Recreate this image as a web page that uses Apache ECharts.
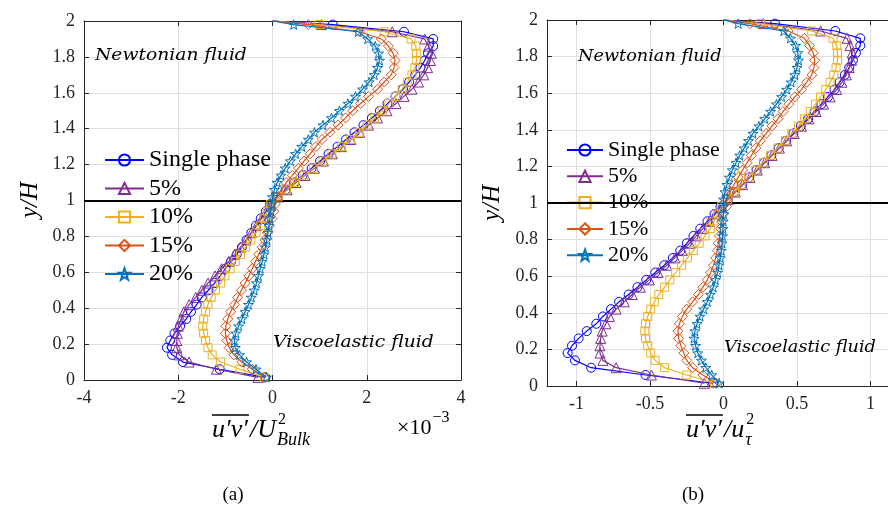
<!DOCTYPE html>
<html>
<head>
<meta charset="utf-8">
<script src="https://cdn.jsdelivr.net/npm/echarts@6/dist/echarts.min.js"></script>
<style>
  html, body { margin: 0; padding: 0; background: #fff; }
  #chart { width: 888px; height: 509px; }
</style>
</head>
<body>
<div id="chart"></div>
<script>
// Wall-normal positions y/H shared by every profile (last entry is the upper wall).
const yOverH = [0.015,0.06,0.10,0.14,0.18,0.22,0.26,0.30,0.34,0.38,0.42,0.46,0.50,0.54,0.58,0.62,0.66,0.70,0.74,0.78,0.82,0.86,0.90,0.94,0.98,
                1.02,1.06,1.10,1.14,1.18,1.22,1.26,1.30,1.34,1.38,1.42,1.46,1.50,1.54,1.58,1.62,1.66,1.70,1.74,1.78,1.82,1.86,1.90,1.94,1.98,2.00];

const seriesNames = ['Single phase', '5%', '10%', '15%', '20%'];

// (a) Reynolds shear stress scaled by the bulk velocity, units of 1e-3
const bulkSingle = [-0.15,-1.12,-1.90,-2.13,-2.24,-2.17,-2.08,-1.96,-1.83,-1.73,-1.61,-1.50,-1.36,-1.23,-1.11,-1.00,-0.88,-0.76,-0.65,-0.55,-0.45,-0.35,-0.25,-0.14,-0.05,
                    0.11,0.28,0.46,0.64,0.83,1.01,1.19,1.38,1.56,1.74,1.93,2.11,2.28,2.44,2.61,2.77,2.90,3.03,3.14,3.23,3.30,3.41,3.41,2.79,1.28,0];
const bulk5 = [-0.31,-1.19,-1.77,-1.98,-2.03,-2.03,-2.02,-2.00,-1.94,-1.88,-1.77,-1.63,-1.50,-1.37,-1.22,-1.08,-0.93,-0.80,-0.68,-0.56,-0.45,-0.34,-0.23,-0.13,-0.04,
               0.13,0.31,0.50,0.69,0.89,1.08,1.27,1.46,1.66,1.85,2.04,2.23,2.43,2.62,2.79,2.96,3.10,3.21,3.29,3.35,3.37,3.31,3.23,2.54,1.04,0];
const bulk10 = [-0.17,-0.69,-1.10,-1.28,-1.37,-1.42,-1.46,-1.48,-1.46,-1.42,-1.37,-1.30,-1.21,-1.10,-1.01,-0.90,-0.79,-0.68,-0.57,-0.46,-0.35,-0.25,-0.18,-0.11,-0.04,
                0.12,0.30,0.47,0.67,0.87,1.07,1.26,1.46,1.66,1.84,2.01,2.17,2.33,2.47,2.61,2.75,2.86,2.96,3.02,3.06,3.06,3.04,2.94,2.37,0.99,0];
const bulk15 = [-0.16,-0.43,-0.65,-0.82,-0.92,-0.97,-1.00,-0.99,-0.95,-0.89,-0.81,-0.74,-0.66,-0.58,-0.50,-0.43,-0.36,-0.29,-0.22,-0.16,-0.11,-0.06,-0.01,0.03,0.06,
                0.08,0.19,0.29,0.42,0.55,0.67,0.80,0.92,1.05,1.22,1.39,1.55,1.70,1.87,2.04,2.23,2.37,2.52,2.58,2.60,2.56,2.46,2.31,1.85,0.76,0];
const bulk20 = [-0.13,-0.35,-0.55,-0.70,-0.79,-0.81,-0.78,-0.72,-0.65,-0.58,-0.51,-0.45,-0.39,-0.34,-0.30,-0.26,-0.22,-0.18,-0.15,-0.12,-0.095,-0.075,-0.055,-0.035,-0.015,
                0.00,0.04,0.10,0.18,0.27,0.38,0.49,0.62,0.76,0.89,1.07,1.25,1.42,1.60,1.76,1.91,2.05,2.16,2.23,2.27,2.25,2.18,2.02,1.82,0.45,0];

// (b) Reynolds shear stress scaled by the friction velocity of each wall
const tauSingle = [-0.07,-0.53,-0.90,-1.01,-1.06,-1.03,-0.985,-0.93,-0.865,-0.82,-0.765,-0.71,-0.645,-0.585,-0.525,-0.464,-0.403,-0.344,-0.294,-0.249,-0.204,-0.158,-0.109,-0.061,-0.02,
                   0.03,0.075,0.125,0.175,0.225,0.275,0.325,0.375,0.425,0.475,0.525,0.575,0.62,0.665,0.71,0.755,0.79,0.825,0.855,0.88,0.90,0.93,0.93,0.76,0.35,0];
const tau5 = [-0.13,-0.49,-0.73,-0.82,-0.84,-0.84,-0.835,-0.825,-0.80,-0.775,-0.73,-0.675,-0.62,-0.565,-0.505,-0.445,-0.385,-0.33,-0.28,-0.23,-0.185,-0.14,-0.095,-0.055,-0.015,
              0.035,0.08,0.13,0.18,0.23,0.28,0.33,0.38,0.43,0.48,0.53,0.58,0.63,0.68,0.725,0.77,0.805,0.835,0.855,0.87,0.875,0.86,0.84,0.66,0.27,0];
const tau10 = [-0.06,-0.25,-0.40,-0.465,-0.495,-0.515,-0.53,-0.535,-0.53,-0.515,-0.495,-0.47,-0.44,-0.40,-0.365,-0.325,-0.285,-0.245,-0.205,-0.165,-0.125,-0.09,-0.065,-0.04,-0.015,
               0.03,0.075,0.12,0.17,0.22,0.27,0.32,0.37,0.42,0.465,0.51,0.55,0.59,0.625,0.66,0.695,0.725,0.75,0.765,0.775,0.775,0.77,0.745,0.60,0.25,0];
const tau15 = [-0.05,-0.14,-0.21,-0.25,-0.27,-0.29,-0.305,-0.31,-0.30,-0.28,-0.25,-0.21,-0.17,-0.14,-0.11,-0.087,-0.068,-0.053,-0.043,-0.035,-0.027,-0.02,-0.012,0.0,0.02,
               0.02,0.045,0.07,0.10,0.13,0.16,0.19,0.22,0.25,0.29,0.33,0.37,0.405,0.445,0.485,0.53,0.565,0.60,0.615,0.62,0.61,0.585,0.55,0.44,0.18,0];
const tau20 = [-0.03,-0.08,-0.12,-0.15,-0.175,-0.19,-0.20,-0.195,-0.18,-0.16,-0.135,-0.11,-0.09,-0.07,-0.055,-0.04,-0.03,-0.022,-0.015,-0.01,-0.007,-0.004,-0.002,0.0,0.0,
               0.0,0.01,0.023,0.04,0.06,0.085,0.11,0.14,0.17,0.20,0.24,0.28,0.32,0.36,0.395,0.43,0.46,0.485,0.50,0.51,0.505,0.49,0.455,0.41,0.10,0];

// Tick positions
const xTicksBulk = [-4, -2, 0, 2, 4];
const xTicksTau = [-1, -0.5, 0, 0.5, 1];

const colors = ['#0000FF', '#7E2F8E', '#EDB120', '#D95319', '#0072BD'];
const STAR = 'path://M0,-10L2.35,-3.24L9.51,-3.09L3.8,1.24L5.88,8.09L0,4L-5.88,8.09L-3.8,1.24L-9.51,-3.09L-2.35,-3.24Z';
const symbols = ['circle', 'triangle', 'rect', 'diamond', STAR];
const symbolSizes = [9, 10, 8, 10, 10];

const SERIF = '"Liberation Serif", "Times New Roman", serif';
const AXIS_GREY = '#262626';

function profileSeries(values, k, panel) {
  const last = yOverH.length - 1;
  return {
    type: 'line',
    name: seriesNames[k],
    xAxisIndex: panel * 2,
    yAxisIndex: panel * 2,
    data: yOverH.map((y, i) => i === last ? { value: [values[i], y], symbol: 'none' } : [values[i], y]),
    symbol: symbols[k],
    symbolSize: symbolSizes[k],
    symbolKeepAspect: true,
    showAllSymbol: true,
    clip: false,
    z: 3 + k,
    lineStyle: { color: colors[k], width: 1.2 },
    itemStyle: { color: 'rgba(255,255,255,0)', borderColor: colors[k], borderWidth: 1 },
    emphasis: { disabled: true }
  };
}

function midPlane() {
  return {
    silent: true, symbol: 'none', label: { show: false },
    lineStyle: { color: '#000', width: 2, type: 'solid' },
    data: [{ yAxis: 1 }]
  };
}

function xAxisFor(grid, min, max, ticks, mirror) {
  return {
    type: 'value', gridIndex: grid, min: min, max: max,
    position: mirror ? 'top' : 'bottom',
    axisLine: { show: true, onZero: false, lineStyle: { color: AXIS_GREY, width: 1 } },
    axisTick: { show: true, inside: true, length: 5, customValues: ticks, lineStyle: { color: AXIS_GREY } },
    axisLabel: { show: !mirror, customValues: ticks, margin: 9, color: AXIS_GREY, fontFamily: SERIF, fontSize: 18,
                 formatter: v => String(v) },
    splitLine: { show: !mirror, lineStyle: { color: '#dfdfdf', width: 1 } }
  };
}

function yAxisFor(grid, mirror) {
  return {
    type: 'value', gridIndex: grid, min: 0, max: 2, interval: 0.2,
    position: mirror ? 'right' : 'left',
    axisLine: { show: true, onZero: false, lineStyle: { color: AXIS_GREY, width: 1 } },
    axisTick: { show: true, inside: true, length: 5, lineStyle: { color: AXIS_GREY } },
    axisLabel: { show: !mirror, margin: 9, color: AXIS_GREY, fontFamily: SERIF, fontSize: 18,
                 formatter: v => String(Math.round(v * 10) / 10) },
    splitLine: { show: !mirror, lineStyle: { color: '#dfdfdf', width: 1 } }
  };
}

const panelA = [bulkSingle, bulk5, bulk10, bulk15, bulk20];
const panelB = [tauSingle, tau5, tau10, tau15, tau20];

const series = [];
panelA.forEach((v, k) => series.push(profileSeries(v, k, 0)));
panelB.forEach((v, k) => series.push(profileSeries(v, k, 1)));
series[4].markLine = midPlane();
series[9].markLine = midPlane();

// ---- annotation texts ----
const measureCtx = document.createElement('canvas').getContext('2d');
function textWidth(text, font) { measureCtx.font = font; return measureCtx.measureText(text).width; }

const itFont = s => 'italic ' + s + 'px ' + SERIF;
const rmFont = s => s + 'px ' + SERIF;
const mathFont = s => 'italic ' + s + 'px "DejaVu Serif", serif';

function txt(text, x, y, font, extraStyle, extraEl) {
  return Object.assign({
    type: 'text', x: x, y: y, silent: true, z: 100,
    style: Object.assign({ text: text, font: font, fill: '#000', textAlign: 'left', textVerticalAlign: 'middle' }, extraStyle || {})
  }, extraEl || {});
}

// overline(u'v') / X^2_sub, laid out from measured glyph widths
function shearLabel(x0, yMid, scaleSym, subText) {
  const main = itFont(26), small = itFont(18), smallRm = rmFont(16);
  const wUV = textWidth('u\u2032v\u2032', main);
  const wSlash = textWidth('/' + scaleSym, main);
  const xSlash = x0 + wUV + 2;
  const xScript = xSlash + wSlash + 2;
  return [
    txt('u\u2032v\u2032', x0, yMid, main),
    { type: 'line', silent: true, z: 100, shape: { x1: x0, y1: yMid - 15, x2: x0 + wUV + 1, y2: yMid - 15 },
      style: { stroke: '#000', lineWidth: 1.7 } },
    txt('/' + scaleSym, xSlash, yMid, main),
    txt('2', xScript, yMid - 10, smallRm),
    txt(subText, xScript - 1, yMid + 10, small)
  ];
}

function exponentLabel(x0, yMid) {
  const f = rmFont(22);
  const w = textWidth('\u00d710', f);
  return [txt('\u00d710', x0, yMid, f), txt('\u22123', x0 + w + 1, yMid - 10, rmFont(16))];
}

const graphics = [].concat(
  [
    txt('Newtonian fluid', 95, 56, mathFont(17), null, { scaleX: 1.1 }),
    txt('Viscoelastic fluid', 273, 343, mathFont(17), null, { scaleX: 1.1 }),
    txt('y/H', 30, 200, itFont(25), { textAlign: 'center' }, { rotation: Math.PI / 2 }),
    txt('(a)', 233, 495, rmFont(19), { textAlign: 'center' }),
    txt('Newtonian fluid', 578, 57, mathFont(17), null, { scaleX: 1.04 }),
    txt('Viscoelastic fluid', 724, 348, mathFont(17), null, { scaleX: 1.04 }),
    txt('y/H', 492, 203, itFont(25), { textAlign: 'center' }, { rotation: Math.PI / 2 }),
    txt('(b)', 693, 495, rmFont(19), { textAlign: 'center' })
  ],
  shearLabel(212, 430, 'U', 'Bulk'),
  exponentLabel(397, 428),
  shearLabel(686, 430, 'u', '\u03c4')
);

const option = {
  animation: false,
  backgroundColor: '#fff',
  grid: [
    { left: 84, top: 21, width: 377, height: 359, show: false, outerBoundsMode: 'none' },
    { left: 547, top: 20, width: 353, height: 366, show: false, outerBoundsMode: 'none' }
  ],
  xAxis: [
    xAxisFor(0, -4, 4, xTicksBulk, false),
    xAxisFor(0, -4, 4, xTicksBulk, true),
    xAxisFor(1, -1.2, 1.2, xTicksTau, false),
    xAxisFor(1, -1.2, 1.2, xTicksTau, true)
  ],
  yAxis: [yAxisFor(0, false), yAxisFor(0, true), yAxisFor(1, false), yAxisFor(1, true)],
  legend: [
    { data: seriesNames, orient: 'vertical', left: 104, top: 148, padding: 0, itemWidth: 39, itemHeight: 14, itemGap: 4.5,
      textStyle: { fontFamily: SERIF, fontSize: 24, color: '#000', lineHeight: 23 }, selectedMode: false },
    { data: seriesNames, orient: 'vertical', left: 566, top: 139, padding: 0, itemWidth: 36, itemHeight: 14, itemGap: 4.3,
      textStyle: { fontFamily: SERIF, fontSize: 22, color: '#000', lineHeight: 22 }, selectedMode: false }
  ],
  series: series,
  graphic: graphics
};

const chart = echarts.init(document.getElementById('chart'), null, { renderer: 'canvas' });
chart.setOption(option);
</script>
</body>
</html>
